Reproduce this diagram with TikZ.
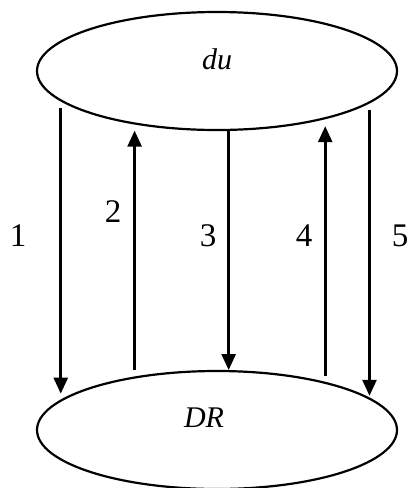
\documentclass[tikz,border=0pt]{standalone}
\usepackage{fontspec}
\setmainfont{Liberation Serif}
\usetikzlibrary{shapes.geometric, arrows.meta}

\begin{document}
\begin{tikzpicture}[
    x=0.5pt,
    y=-0.5pt,
    state/.style={ellipse, draw=black, line width=1.1pt, minimum width=180pt, minimum height=59pt, inner sep=0pt},
    setname/.style={font=\fontsize{15}{17}\selectfont\itshape},
    flow/.style={line width=1.3pt, -{Triangle[length=8pt, width=7pt]}},
    num/.style={font=\fontsize{16.5}{18}\selectfont}
]
\useasboundingbox (0,0) rectangle (407,488);

% the two sets
\node [state] (du) at (217, 71) {};
\node [state] (DR) at (217, 430) {};
\node [setname] (du-name) at (217, 59) {du};
\node [setname] (DR-name) at (204, 418) {DR};

% arrows between them (kept vertical)
\draw [flow, shorten <=3.5pt, shorten >=3pt] (du.191.6) -- (du.191.6 |- DR.169.3);
\draw [flow, shorten <=3pt, shorten >=3.5pt] (DR.147.45) -- (DR.147.45 |- du.211.9);
\draw [flow] (du.281.5) -- (du.281.5 |- DR.78.5);
\draw [flow, shorten <=3pt, shorten >=3.5pt] (DR.24.65) -- (DR.24.65 |- du.336.1);
\draw [flow, shorten <=3.5pt, shorten >=3pt] (du.348.97) -- (du.348.97 |- DR.10.95);

% arrow numbers
\foreach \n/\x/\y in {1/18/236, 2/113/212, 3/208/236, 4/304/236, 5/400/236} {
    \node [num] (n\n) at (\x, \y) {\n};
}

\end{tikzpicture}
\end{document}
